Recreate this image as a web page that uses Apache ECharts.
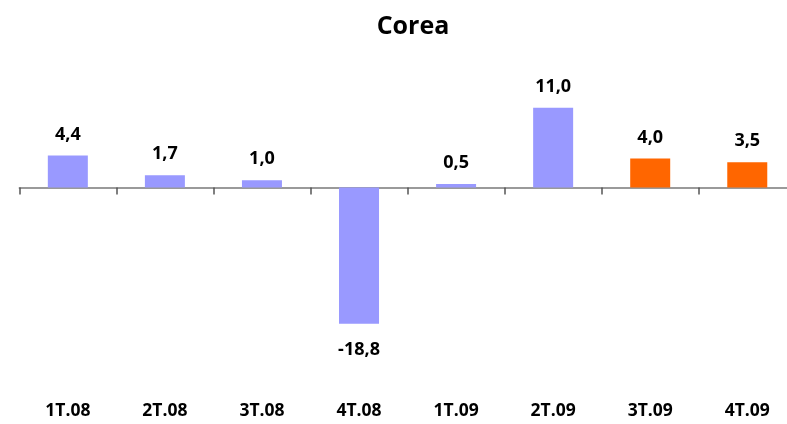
<!DOCTYPE html>
<html>
<head>
<meta charset="utf-8">
<script src="https://cdn.jsdelivr.net/npm/echarts@6/dist/echarts.min.js"></script>
<style>
  html, body { margin: 0; padding: 0; background: #fff; overflow: hidden; }
  #chart { width: 800px; height: 424px; }
</style>
</head>
<body>
<div id="chart"></div>
<script>
// Quarterly figures for Korea; the last two quarters are forecasts
const quarters = ['1T.08', '2T.08', '3T.08', '4T.08', '1T.09', '2T.09', '3T.09', '4T.09'];
const values = [4.4, 1.7, 1.0, -18.8, 0.5, 11.0, 4.0, 3.5];
const forecast = [false, false, false, false, false, false, true, true];

const FONT = '"Open Sans", Lato, sans-serif';
const fmt = v => v.toFixed(1).replace('.', ',');

const chart = echarts.init(document.getElementById('chart'));

const barData = values.map((v, i) => ({
  value: v,
  itemStyle: { color: forecast[i] ? '#FF6600' : '#9999FF' },
  label: { position: v < 0 ? 'bottom' : 'top', distance: v < 0 ? 17 : 12 }
}));

chart.setOption({
  animation: false,
  title: {
    text: 'Corea',
    left: 408,
    textAlign: 'center',
    top: 9,
    textStyle: { fontFamily: FONT, fontSize: 25, fontWeight: 'bold', color: '#000' }
  },
  grid: { left: 19.3, width: 776.5, top: 100.5, height: 275.5, containLabel: false },
  xAxis: [
    {
      type: 'category',
      data: quarters,
      position: 'bottom',
      axisLine: { onZero: true, lineStyle: { color: '#7a7a7a', width: 1.5 } },
      axisTick: { show: true, length: 7, lineStyle: { color: '#555555', width: 1.5 } },
      axisLabel: { show: false }
    },
    {
      type: 'category',
      data: quarters,
      position: 'bottom',
      axisLine: { show: false, onZero: false },
      axisTick: { show: false },
      axisLabel: {
        margin: 26,
        fontFamily: FONT, fontSize: 17.5, fontWeight: 'bold', color: '#000'
      }
    }
  ],
  yAxis: {
    type: 'value',
    min: -26,
    max: 12,
    show: false,
    splitLine: { show: false }
  },
  series: [{
    type: 'bar',
    xAxisIndex: 0,
    data: barData,
    barWidth: 40,
    label: {
      show: true,
      formatter: p => fmt(p.value),
      fontFamily: FONT, fontSize: 18, fontWeight: 'bold', color: '#000'
    }
  }]
});
</script>
</body>
</html>
